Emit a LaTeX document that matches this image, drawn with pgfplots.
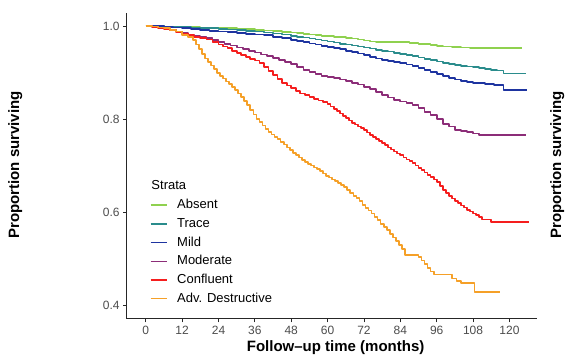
\documentclass[border=0pt]{standalone}
\usepackage{fontspec}
\setmainfont{Liberation Sans}
\usepackage{pgfplots}
\pgfplotsset{compat=1.18}
\definecolor{cAbs}{RGB}{143,209,79}
\definecolor{cTra}{RGB}{42,140,140}
\definecolor{cMil}{RGB}{30,52,160}
\definecolor{cMod}{RGB}{140,45,120}
\definecolor{cCon}{RGB}{245,30,30}
\definecolor{cAdv}{RGB}{245,160,40}
\begin{document}
\begin{tikzpicture}
\useasboundingbox (0,0) rectangle (565pt,355pt);
\begin{axis}[
  at={(126.7pt,36pt)}, anchor=south west,
  scale only axis, width=410pt, height=306pt,
  xmin=-6.3, xmax=129, ymin=0.37, ymax=1.028,
  axis x line*=bottom, axis y line*=left,
  axis line style={line width=1pt, draw=black!85, -},
  xtick={0,12,...,120}, ytick={0.4,0.6,0.8,1.0},
  yticklabel style={/pgf/number format/.cd, fixed, fixed zerofill, precision=1},
  tick style={line width=0.8pt, draw=black!85},
  tick align=outside, major tick length=3.5pt,
  ticklabel style={font=\fontsize{12}{14}\selectfont, text=black!70},
  /pgf/number format/assume math mode=true,
  every axis plot/.append style={const plot, line width=1.7pt, line join=round},
  legend cell align=left,
  legend style={at={(rel axis cs:0.0568,0.4526)}, anchor=north west, draw=none, fill=none,
    inner sep=0pt, outer sep=0pt, font=\fontsize{13}{15}\selectfont, row sep=6.7pt,
    column sep=9.7pt,
    nodes={inner sep=0pt, text height=9.5pt, text depth=2.5pt}},
  legend image code/.code={\draw[#1, line width=1.5pt] (0pt,0pt) -- (16pt,0pt);},
]
\addlegendimage{empty legend}
\addlegendentry{\hspace{-25.7pt}Strata}
\addplot[cAbs] coordinates {
(0,1)(3,0.9995)(6,0.999)(9,0.9985)(12,0.998)(15,0.9975)(18,0.997)(21,0.9965)(24,0.996)(27,0.995)(30,0.994)(33,0.993)(36,0.992)(39,0.9905)(42,0.989)(45,0.9875)(48,0.986)(50,0.9845)(52,0.983)(54,0.9815)(56,0.980)(58,0.979)(60,0.978)(62,0.977)(64,0.976)(66,0.9745)(68,0.973)(70,0.971)(72,0.969)(74,0.967)(76,0.966)(80,0.9655)(84,0.965)(87,0.964)(90,0.962)(92,0.961)(94,0.959)(96,0.957)(98,0.956)(101,0.955)(104,0.954)(107,0.952)(124,0.952)};
\addlegendentry{Absent}
\addplot[cTra] coordinates {
(0,1)(3,0.9995)(6,0.999)(9,0.9985)(12,0.998)(15,0.997)(18,0.996)(21,0.995)(24,0.994)(27,0.9925)(30,0.991)(33,0.9895)(36,0.988)(39,0.986)(42,0.984)(45,0.9815)(48,0.979)(50,0.977)(52,0.975)(54,0.973)(56,0.971)(58,0.969)(60,0.967)(62,0.9645)(64,0.962)(66,0.960)(68,0.958)(70,0.956)(72,0.954)(74,0.9515)(76,0.949)(78,0.947)(80,0.945)(82,0.9425)(84,0.940)(86,0.9375)(88,0.935)(90,0.932)(92,0.929)(94,0.9265)(96,0.924)(98,0.921)(100,0.918)(102,0.916)(104,0.9145)(106,0.913)(108,0.9115)(110,0.910)(112,0.908)(114,0.906)(116,0.9045)(118,0.898)(125.4,0.898)};
\addlegendentry{Trace}
\addplot[cMil] coordinates {
(0,1)(3,0.9995)(6,0.998)(9,0.9965)(12,0.995)(15,0.993)(18,0.991)(21,0.9895)(24,0.988)(27,0.9865)(30,0.985)(33,0.9835)(36,0.982)(39,0.980)(42,0.977)(45,0.974)(48,0.970)(50,0.9675)(52,0.965)(54,0.9625)(56,0.960)(58,0.9575)(60,0.955)(62,0.9525)(64,0.950)(66,0.947)(68,0.944)(70,0.941)(72,0.938)(74,0.934)(76,0.930)(78,0.9275)(80,0.925)(82,0.9225)(84,0.920)(86,0.917)(88,0.914)(90,0.9095)(92,0.905)(94,0.901)(96,0.897)(98,0.892)(100,0.888)(102,0.885)(104,0.882)(106,0.880)(108,0.878)(112,0.876)(115,0.873)(118,0.862)(125.7,0.862)};
\addlegendentry{Mild}
\addplot[cMod] coordinates {
(0,1)(2,0.999)(4,0.997)(6,0.995)(8,0.992)(10,0.988)(12,0.985)(14,0.981)(16,0.978)(18,0.976)(20,0.974)(22,0.970)(24,0.966)(26,0.962)(28,0.958)(30,0.954)(32,0.950)(34,0.9465)(36,0.943)(38,0.939)(40,0.935)(42,0.931)(44,0.927)(46,0.9225)(48,0.918)(50,0.912)(52,0.906)(54,0.901)(56,0.897)(58,0.893)(60,0.8905)(62,0.888)(64,0.885)(66,0.882)(68,0.878)(70,0.874)(72,0.869)(74,0.864)(76,0.858)(78,0.852)(80,0.846)(82,0.841)(84,0.838)(86,0.834)(88,0.830)(90,0.823)(92,0.815)(94,0.808)(96,0.800)(98,0.790)(100,0.784)(102,0.777)(104,0.775)(106,0.772)(108,0.769)(110,0.765)(125.4,0.765)};
\addlegendentry{Moderate}
\addplot[cCon] coordinates {
(0,1)(2,0.998)(4,0.996)(6,0.994)(8,0.991)(10,0.987)(12,0.984)(14,0.980)(16,0.977)(18,0.974)(20,0.971)(22,0.966)(24,0.960)(25.5,0.956)(27,0.952)(28.5,0.947)(30,0.942)(31.5,0.937)(33,0.933)(34.5,0.929)(36,0.926)(37.5,0.920)(39,0.912)(40.5,0.903)(42,0.894)(43.5,0.886)(45,0.878)(46.5,0.872)(48,0.866)(49.5,0.860)(51,0.855)(52.5,0.851)(54,0.847)(55.5,0.843)(57,0.840)(58.5,0.836)(60,0.832)(61,0.827)(62,0.822)(63,0.817)(64,0.812)(65,0.807)(66,0.802)(67,0.797)(68,0.792)(69,0.788)(70,0.784)(71,0.780)(72,0.776)(73,0.771)(74,0.766)(75,0.7615)(76,0.757)(77,0.7525)(78,0.748)(79,0.7435)(80,0.739)(81,0.7345)(82,0.730)(83,0.726)(84,0.722)(85,0.7175)(86,0.713)(87,0.709)(88,0.705)(89,0.700)(90,0.695)(91,0.690)(92,0.685)(93,0.680)(94,0.675)(95,0.670)(96,0.664)(97,0.656)(98,0.648)(99,0.641)(100,0.635)(101,0.629)(102,0.624)(103,0.619)(104,0.614)(105,0.6095)(106,0.605)(107,0.601)(108,0.597)(109,0.5935)(110,0.590)(111,0.584)(114,0.578)(126.4,0.578)};
\addlegendentry{Confluent}
\addplot[cAdv] coordinates {
(0,1)(2,0.999)(4,0.997)(6,0.995)(8,0.992)(10,0.988)(12,0.981)(14,0.976)(15.5,0.970)(16.5,0.960)(17.5,0.950)(18.5,0.940)(19.5,0.930)(20.5,0.922)(21.5,0.915)(22.5,0.907)(23.5,0.899)(24.5,0.892)(25.5,0.887)(26.5,0.881)(27.5,0.875)(28.5,0.869)(29.5,0.862)(30.5,0.855)(31.5,0.847)(32.5,0.839)(33.5,0.830)(34.5,0.820)(35.5,0.810)(36.5,0.800)(37.5,0.793)(38.5,0.786)(39.5,0.779)(40.5,0.772)(41.5,0.767)(42.5,0.762)(43.5,0.757)(44.5,0.751)(45.5,0.745)(46.5,0.739)(47.5,0.733)(48.5,0.727)(49.5,0.722)(50.5,0.717)(51.5,0.712)(52.5,0.708)(53.5,0.704)(54.5,0.700)(55.5,0.696)(56.5,0.692)(57.5,0.688)(58.5,0.683)(59.5,0.678)(60.5,0.674)(61.5,0.670)(62.5,0.666)(63.5,0.662)(64.5,0.658)(65.5,0.654)(66.5,0.648)(67.5,0.641)(68.5,0.635)(69.5,0.630)(70.5,0.623)(71.5,0.615)(72.5,0.609)(73.5,0.603)(74.5,0.597)(75.5,0.590)(76.5,0.583)(77.5,0.575)(78.5,0.568)(79.5,0.561)(80.5,0.553)(81.5,0.545)(82.5,0.537)(83.5,0.529)(84.5,0.520)(85.5,0.508)(89,0.508)(90,0.503)(91,0.496)(92,0.488)(93,0.480)(94,0.472)(95,0.466)(100,0.466)(101,0.457)(102.5,0.452)(104,0.447)(108,0.447)(108.5,0.428)(116.8,0.428)};
\addlegendentry{Adv. Destructive}
\end{axis}
\node[rotate=90, anchor=base, font=\bfseries\fontsize{15}{18}\selectfont] at (19pt,190pt) {Proportion surviving};
\node[rotate=90, anchor=base, font=\bfseries\fontsize{15}{18}\selectfont] at (561pt,190pt) {Proportion surviving};
\node[anchor=base, font=\bfseries\fontsize{15}{18}\selectfont] at (335.6pt,3.5pt) {Follow--up time (months)};
\end{tikzpicture}
\end{document}
